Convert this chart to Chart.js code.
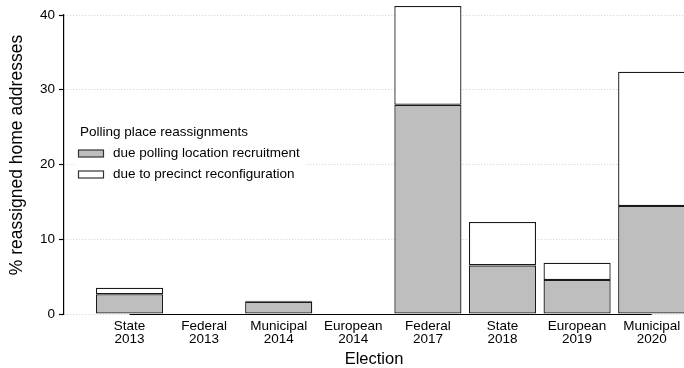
<!DOCTYPE html>
<html>
<head>
<meta charset="utf-8">
<script src="https://cdn.jsdelivr.net/npm/chart.js@4"></script>
<style>
  html, body { margin: 0; padding: 0; background: #fff; overflow: hidden; }
</style>
</head>
<body>
<canvas id="chart" width="684" height="368"></canvas>
<script>
// Elections (two-line axis labels)
const elections = [
  ['State', '2013'], ['Federal', '2013'], ['Municipal', '2014'], ['European', '2014'],
  ['Federal', '2017'], ['State', '2018'], ['European', '2019'], ['Municipal', '2020']
];
// Share of home addresses reassigned (%), by cause
const recruitment     = [2.65, 0, 1.65, 0, 28.0, 6.5, 4.55, 14.45];
const reconfiguration = [0.87, 0, 0.12, 0, 13.2, 5.8, 2.3, 17.95];
const yTicks = [0, 10, 20, 30, 40];

const seriesNames = ['due polling location recruitment', 'due to precinct reconfiguration'];
const legendTitle = 'Polling place reassignments';
const yTitle = '% reassigned home addresses';
const FONT = "'Liberation Sans', Arial, Helvetica, sans-serif";

const toPoints = arr => arr.map((v, i) => ({ x: i, y: v }));

// Draws the x axis line, rotated y title and the boxed legend
const decorations = {
  id: 'decorations',
  afterDraw(chart) {
    const { ctx, scales: { x, y } } = chart;
    ctx.save();

    // x axis line spans first to last election
    const y0 = Math.round(y.getPixelForValue(0)) + 0.5;
    ctx.strokeStyle = '#000';
    ctx.lineWidth = 1.2;
    ctx.beginPath();
    ctx.moveTo(x.getPixelForValue(0), y0);
    ctx.lineTo(x.getPixelForValue(elections.length - 1), y0);
    ctx.stroke();

    // y axis title
    ctx.save();
    ctx.translate(17, 155);
    ctx.rotate(-Math.PI / 2);
    ctx.fillStyle = '#000';
    ctx.font = `17.5px ${FONT}`;
    ctx.textAlign = 'center';
    ctx.textBaseline = 'middle';
    ctx.fillText(yTitle, 0, 0);
    ctx.restore();

    // legend
    const lx = 78, ly = 132.5, rowH = 21;
    ctx.fillStyle = '#fff';
    ctx.fillRect(75, 120, 230, 64);
    ctx.font = `13.5px ${FONT}`;
    ctx.textBaseline = 'middle';
    ctx.textAlign = 'left';
    ctx.fillStyle = '#000';
    ctx.fillText(legendTitle, lx + 2, ly);
    chart.data.datasets.forEach((ds, i) => {
      const cy = ly + rowH * (i + 1);
      ctx.fillStyle = ds.backgroundColor;
      ctx.fillRect(lx + 0.5, cy - 3.5, 25, 7);
      ctx.strokeStyle = '#333';
      ctx.lineWidth = 1.2;
      ctx.strokeRect(lx + 0.5, cy - 3.5, 25, 7);
      ctx.fillStyle = '#000';
      ctx.fillText(ds.label, lx + 35, cy);
    });
    ctx.restore();
  }
};

new Chart(document.getElementById('chart'), {
  type: 'bar',
  data: {
    datasets: [
      {
        label: seriesNames[0],
        data: toPoints(recruitment),
        backgroundColor: '#bebebe',
        borderColor: '#1a1a1a',
        borderWidth: 1.3,
        borderSkipped: false,
        clip: false
      },
      {
        label: seriesNames[1],
        data: toPoints(reconfiguration),
        backgroundColor: '#ffffff',
        borderColor: '#1a1a1a',
        borderWidth: 1.3,
        borderSkipped: false,
        clip: false
      }
    ]
  },
  options: {
    responsive: false,
    animation: false,
    events: [],
    layout: { padding: { top: 15, right: 0, bottom: 0, left: 0 } },
    datasets: { bar: { barPercentage: 0.9, categoryPercentage: 1.0 } },
    plugins: { legend: { display: false }, tooltip: { enabled: false } },
    scales: {
      x: {
        type: 'linear',
        stacked: true,
        offset: false,
        min: -0.878,
        max: 7.433,
        afterBuildTicks: s => { s.ticks = elections.map((_, i) => ({ value: i })); },
        afterFit: s => { s.height = 54; s.paddingLeft = 0; s.paddingRight = 0; },
        grid: { display: false, drawTicks: false, offset: false },
        border: { display: false },
        ticks: {
          autoSkip: false,
          maxRotation: 0,
          padding: 6,
          color: '#000',
          font: { family: FONT, size: 13.5, lineHeight: 0.95 },
          callback: v => elections[v]
        },
        title: {
          display: true,
          text: 'Election',
          color: '#000',
          padding: { top: 0, bottom: 0 },
          font: { family: FONT, size: 16.5, lineHeight: 1 }
        }
      },
      y: {
        stacked: true,
        min: 0,
        max: 40,
        afterBuildTicks: s => { s.ticks = yTicks.map(v => ({ value: v })); },
        afterFit: s => { s.width = 64; },
        grid: {
          color: '#d0d0d0',
          lineWidth: 1,
          tickColor: '#000',
          tickLength: 5,
          tickWidth: 1.2,
          tickBorderDash: []
        },
        border: { display: true, color: '#000', width: 1.2, dash: [1, 2] },
        ticks: {
          padding: 4,
          color: '#000',
          font: { family: FONT, size: 13.5 }
        }
      }
    }
  },
  plugins: [decorations]
});
</script>
</body>
</html>
